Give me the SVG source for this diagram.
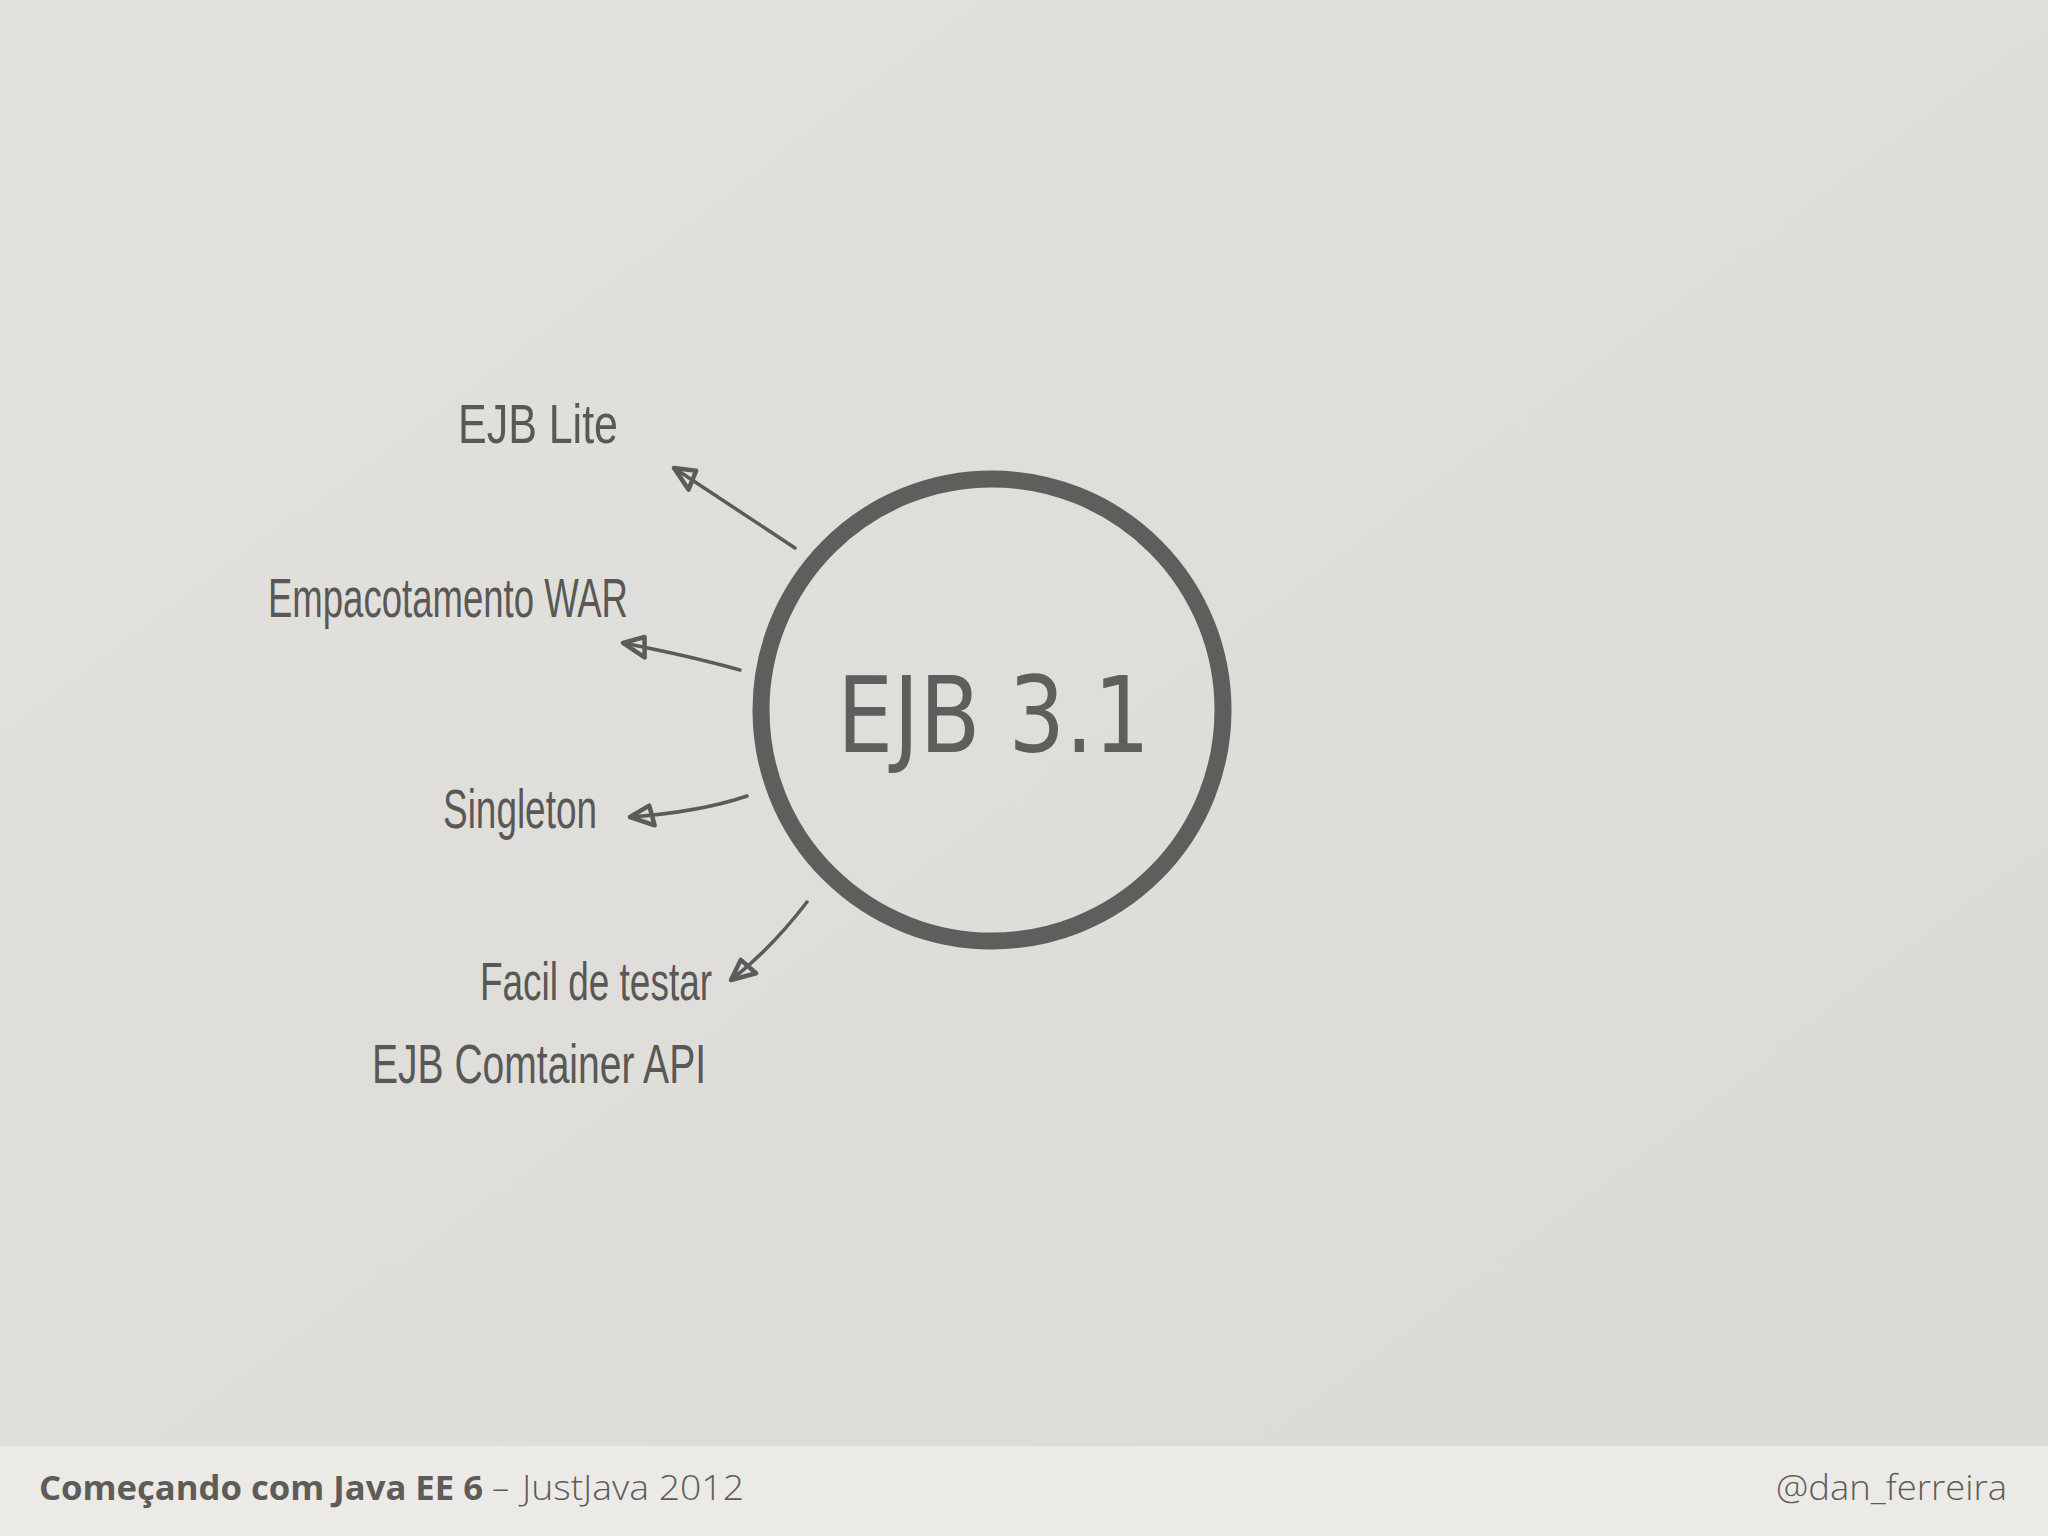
<svg xmlns="http://www.w3.org/2000/svg" width="2048" height="1536" viewBox="0 0 2048 1536">
  <defs>
    <linearGradient id="bg" x1="0" y1="0" x2="1" y2="1">
      <stop offset="0" stop-color="#e3e1dd"/>
      <stop offset="1" stop-color="#dcdad6"/>
    </linearGradient>
    <marker id="arr" viewBox="0 0 34 28" refX="30" refY="14" markerWidth="34" markerHeight="28" markerUnits="userSpaceOnUse" orient="auto">
      <path d="M30 14 L6 4 L10 24 Z" fill="none" stroke="#5d5b59" stroke-width="4.5" stroke-linejoin="round"/>
    </marker>
    <style>
      .hand { font-family: "Liberation Sans", "DejaVu Sans", sans-serif; fill: #5a5856; font-weight: 400; }
      .conn { fill: none; stroke: #5d5b59; stroke-width: 3.5; stroke-linecap: round; }
      .foot { font-family: "Open Sans", "Liberation Sans", sans-serif; fill: #5e5c5a; }
    </style>
  </defs>

  <rect x="0" y="0" width="2048" height="1536" fill="url(#bg)"/>
  <rect x="0" y="1446" width="2048" height="90" fill="#ebeae6"/>

  <g id="node-ejb31">
    <circle cx="992" cy="710" r="231" fill="none" stroke="#5f5e5c" stroke-width="17"/>
    <text x="837" y="752" font-family="DejaVu Sans, sans-serif" font-size="106" fill="#5f5e5c" textLength="313" lengthAdjust="spacingAndGlyphs">EJB 3.1</text>
  </g>

  <g id="node-ejb-lite">
    <text class="hand" x="458" y="443" font-size="56" textLength="160" lengthAdjust="spacingAndGlyphs">EJB Lite</text>
  </g>
  <g id="node-empacotamento">
    <text class="hand" x="268" y="617" font-size="56" textLength="360" lengthAdjust="spacingAndGlyphs">Empacotamento WAR</text>
  </g>
  <g id="node-singleton">
    <text class="hand" x="443" y="828" font-size="56" textLength="154" lengthAdjust="spacingAndGlyphs">Singleton</text>
  </g>
  <g id="node-facil">
    <text class="hand" x="480" y="1000" font-size="54" textLength="232" lengthAdjust="spacingAndGlyphs">Facil de testar</text>
  </g>
  <g id="node-container-api">
    <text class="hand" x="372" y="1083" font-size="56" textLength="334" lengthAdjust="spacingAndGlyphs">EJB Comtainer API</text>
  </g>

  <g id="connectors">
    <path class="conn" d="M795 548 L674 468" marker-end="url(#arr)"/>
    <path class="conn" d="M740 670 Q690 656 623 643" marker-end="url(#arr)"/>
    <path class="conn" d="M747 796 Q700 812 630 817" marker-end="url(#arr)"/>
    <path class="conn" d="M807 902 Q770 950 731 980" marker-end="url(#arr)"/>
  </g>

  <g id="footer">
    <text class="foot" x="39" y="1500" font-size="34" font-weight="700" textLength="444" lengthAdjust="spacingAndGlyphs">Começando com Java EE 6</text>
    <text class="foot" x="492" y="1500" font-size="34" font-weight="300">–</text>
    <text class="foot" x="522" y="1500" font-size="34" font-weight="300" textLength="222" lengthAdjust="spacingAndGlyphs">JustJava 2012</text>
    <text class="foot" x="1776" y="1500" font-size="34" font-weight="300" textLength="231" lengthAdjust="spacingAndGlyphs">@dan_ferreira</text>
  </g>
</svg>
